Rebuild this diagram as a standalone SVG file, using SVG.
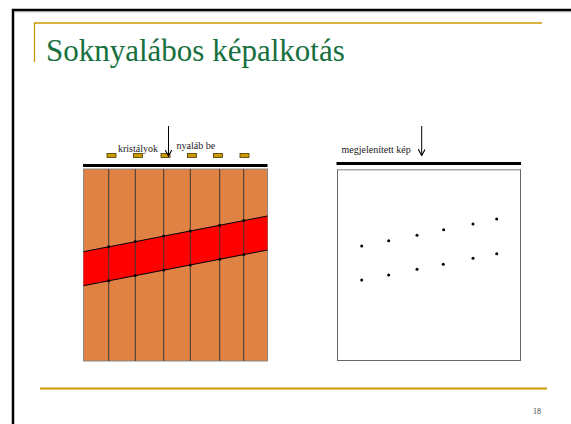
<svg xmlns="http://www.w3.org/2000/svg" width="571" height="424" viewBox="0 0 571 424">
<defs>
<style>
.lbl{font-family:"Liberation Serif","Times New Roman",serif;font-size:10px;fill:#222}
.col{stroke:#3a3a3a;stroke-width:1}
.xtal{fill:#CC9900;stroke:#4a3a00;stroke-width:0.8}
.dot{fill:#000}
.gold{stroke:#CC9900;fill:none}
</style>
<marker id="ah" viewBox="0 0 10 10" refX="9" refY="5" markerWidth="7" markerHeight="7" orient="auto" markerUnits="userSpaceOnUse">
<path d="M0,0 L9,5 L0,10" fill="none" stroke="#000" stroke-width="1.6"/>
</marker>
</defs>
<rect width="571" height="424" fill="#fff"/>
<g id="frame">
<rect x="13" y="10" width="600" height="500" fill="none" stroke="#000" stroke-width="2.5"/>
<line x1="14.5" y1="11.8" x2="571" y2="11.8" stroke="#999" stroke-width="0.8"/>
</g>
<g id="title">
<path class="gold" d="M34.5,62 V23 H542" stroke-width="1.3"/>
<text x="46" y="61" font-family="'Liberation Serif','Times New Roman',serif" font-size="31" fill="#16703E">Soknyalábos képalkotás</text>
</g>
<g id="detector">
<rect x="83.5" y="169" width="184" height="192" fill="#E08243" stroke="#888" stroke-width="1"/>
<polygon points="83.5,251.7 267.5,216 267.5,250 83.5,285.7" fill="#FF0000"/>
<line class="col" x1="108.7" y1="169" x2="108.7" y2="361"/>
<line class="col" x1="135.3" y1="169" x2="135.3" y2="361"/>
<line class="col" x1="163.7" y1="169" x2="163.7" y2="361"/>
<line class="col" x1="190.3" y1="169" x2="190.3" y2="361"/>
<line class="col" x1="219.7" y1="169" x2="219.7" y2="361"/>
<line class="col" x1="243.7" y1="169" x2="243.7" y2="361"/>
<line x1="83.5" y1="251.7" x2="267.5" y2="216" stroke="#000" stroke-width="1"/>
<line x1="83.5" y1="285.7" x2="267.5" y2="250" stroke="#000" stroke-width="1"/>
<g class="dot">
<circle cx="108.7" cy="246.7" r="1.5"/><circle cx="135.3" cy="241.6" r="1.5"/><circle cx="163.7" cy="236.1" r="1.5"/><circle cx="190.3" cy="230.9" r="1.5"/><circle cx="219.7" cy="225.2" r="1.5"/><circle cx="243.7" cy="220.6" r="1.5"/>
<circle cx="108.7" cy="280.7" r="1.5"/><circle cx="135.3" cy="275.6" r="1.5"/><circle cx="163.7" cy="270.1" r="1.5"/><circle cx="190.3" cy="264.9" r="1.5"/><circle cx="219.7" cy="259.2" r="1.5"/><circle cx="243.7" cy="254.6" r="1.5"/>
</g>
<line x1="83" y1="165.5" x2="267.5" y2="165.5" stroke="#000" stroke-width="3"/>
</g>
<g id="crystals">
<rect class="xtal" x="107" y="153.5" width="9" height="4"/>
<rect class="xtal" x="133.5" y="153.5" width="9" height="4"/>
<rect class="xtal" x="161" y="153.5" width="9" height="4"/>
<rect class="xtal" x="187.5" y="153.5" width="9" height="4"/>
<rect class="xtal" x="213.5" y="153.5" width="9" height="4"/>
<rect class="xtal" x="240" y="153.5" width="9" height="4"/>
<text class="lbl" x="118" y="152">kristályok</text>
<text class="lbl" x="176.5" y="148.5">nyaláb be</text>
</g>
<g id="image">
<rect x="337.5" y="169.5" width="183" height="191" fill="#fff" stroke="#666" stroke-width="1"/>
<line x1="337.5" y1="169.8" x2="520.5" y2="169.8" stroke="#aaa" stroke-width="1.5"/>
<line x1="336.5" y1="163.5" x2="521" y2="163.5" stroke="#000" stroke-width="3"/>
<text class="lbl" x="341.5" y="152.5">megjelenített kép</text>
<g class="dot">
<circle cx="361.7" cy="246" r="1.5"/><circle cx="388.7" cy="240.7" r="1.5"/><circle cx="417" cy="235.3" r="1.5"/><circle cx="443.7" cy="229.7" r="1.5"/><circle cx="473" cy="224" r="1.5"/><circle cx="496.7" cy="219" r="1.5"/>
<circle cx="361.7" cy="280" r="1.5"/><circle cx="388.7" cy="275" r="1.5"/><circle cx="417" cy="269.3" r="1.5"/><circle cx="443.3" cy="264.3" r="1.5"/><circle cx="473" cy="258.3" r="1.5"/><circle cx="496.7" cy="253.7" r="1.5"/>
</g>
</g>
<g id="connectors">
<line x1="168.5" y1="126" x2="168.5" y2="156" stroke="#000" stroke-width="1" marker-end="url(#ah)"/>
<line x1="421.7" y1="126" x2="421.7" y2="155.5" stroke="#000" stroke-width="1" marker-end="url(#ah)"/>
</g>
<g id="footer">
<line class="gold" x1="40" y1="388.5" x2="547" y2="388.5" stroke-width="2"/>
<text x="541" y="414" text-anchor="end" font-family="'Liberation Serif','Times New Roman',serif" font-size="8" fill="#444">18</text>
</g>
</svg>
